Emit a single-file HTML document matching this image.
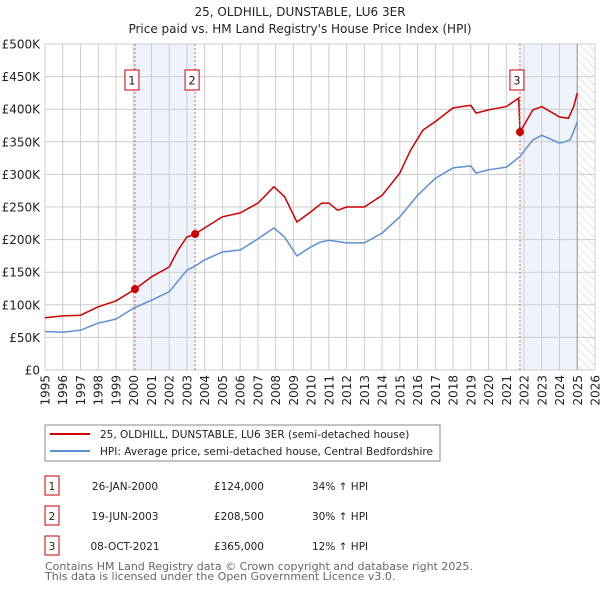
<!DOCTYPE html>
<html><head><meta charset="utf-8"><style>
body{margin:0;background:#fff;}
svg{display:block;font-family:"DejaVu Sans","Liberation Sans",sans-serif;}
</style></head><body>
<svg id="chart" width="600" height="590" viewBox="0 0 600 590">
<defs><pattern id="hatch" width="6" height="6" patternUnits="userSpaceOnUse" patternTransform="rotate(-45)"><line x1="0" y1="0" x2="0" y2="6" stroke="#ccc" stroke-width="1"/></pattern></defs>
<text x="300" y="16" text-anchor="middle" font-size="12" fill="#222">25, OLDHILL, DUNSTABLE, LU6 3ER</text>
<text x="300" y="33" text-anchor="middle" font-size="12" fill="#222">Price paid vs. HM Land Registry's House Price Index (HPI)</text>
<g id="shade"></g><g id="grid"></g><g id="series"></g><g id="marks"></g>
<rect x="45" y="425" width="395" height="36" fill="#fff" stroke="#888"/>
<line x1="50" y1="434" x2="90" y2="434" stroke="#cc0000" stroke-width="2"/>
<text x="100" y="438" font-size="10.5" fill="#222">25, OLDHILL, DUNSTABLE, LU6 3ER (semi-detached house)</text>
<line x1="50" y1="451" x2="90" y2="451" stroke="#5b8fd4" stroke-width="2"/>
<text x="100" y="455" font-size="10.5" fill="#222" textLength="333" lengthAdjust="spacingAndGlyphs">HPI: Average price, semi-detached house, Central Bedfordshire</text>
<g id="table" font-size="10.5" fill="#222"></g>
<text x="45" y="570" font-size="11" fill="#666">Contains HM Land Registry data © Crown copyright and database right 2025.</text>
<text x="45" y="580" font-size="11" fill="#666">This data is licensed under the Open Government Licence v3.0.</text>
</svg>
<script>
const hpiYears=[1995,1996,1997,1998,1999,2000,2001,2002,2003,2003.5,2004,2005,2006,2007,2007.9,2008.5,2009.2,2010,2010.5,2011,2012,2013,2014,2015,2016,2017,2018,2019,2019.3,2020,2021,2021.75,2022.5,2023,2024,2024.3,2024.6,2025];
const hpiValues=[59,58,61,72,78,95,107,120,153,160,169,181,184,201,218,204,175,189,196,199,195,195,210,235,268,294,310,313,302,307,311,327,353,360,348,350,353,380];
const priceYears=[1995,1996,1997,1998,1999,2000.07,2001,2002,2002.5,2003,2003.46,2004,2005,2006,2007,2007.9,2008.5,2009.2,2010,2010.6,2011,2011.5,2012,2013,2014,2015,2015.6,2016.3,2017,2018,2019,2019.3,2020,2021,2021.7,2021.77,2022.5,2023,2024,2024.5,2024.8,2025];
const priceValues=[80,83,84,97,106,124,143,158,184,204,208.5,218,235,241,256,281,266,227,243,256,256,245,250,250,268,302,337,368,381,402,406,394,399,404,417,365,399,404,388,386,404,425];
const saleYears=[2000.07,2003.46,2021.77];
const saleValues=[124,208.5,365];
const saleDates=["26-JAN-2000","19-JUN-2003","08-OCT-2021"];
const salePrices=["£124,000","£208,500","£365,000"];
const saleHpi=["34% ↑ HPI","30% ↑ HPI","12% ↑ HPI"];
const yTicks=[0,50,100,150,200,250,300,350,400,450,500];
const yTickLabels=["£0","£50K","£100K","£150K","£200K","£250K","£300K","£350K","£400K","£450K","£500K"];
const xTicks=[1995,1996,1997,1998,1999,2000,2001,2002,2003,2004,2005,2006,2007,2008,2009,2010,2011,2012,2013,2014,2015,2016,2017,2018,2019,2020,2021,2022,2023,2024,2025,2026];
const NS="http://www.w3.org/2000/svg";
const X=y=>45+(y-1995)*(550/31);
const Y=v=>370-v*0.652;
function mk(tag,attrs,parent,text){const e=document.createElementNS(NS,tag);for(const k in attrs)e.setAttribute(k,attrs[k]);if(text!==undefined)e.textContent=text;document.getElementById(parent).appendChild(e);return e;}
let e;
e=mk('rect',{x:X(saleYears[0]),y:44,width:X(saleYears[1])-X(saleYears[0]),height:326,fill:'#eef3fc'},'shade');


e=mk('rect',{x:X(saleYears[2]),y:44,width:X(2025)-X(saleYears[2]),height:326,fill:'#eef3fc'},'shade');


e=mk('rect',{x:X(2025),y:44,width:X(2026)-X(2025),height:326,fill:'url(#hatch)'},'shade');


yTicks.forEach((t,i)=>{
 e=mk('line',{x1:45,x2:595,y1:Y(t),y2:Y(t),stroke:'#ccc'},'grid');
 
 
 e=mk('text',{x:40,y:Y(t)+4.5,'text-anchor':'end','font-size':12,fill:'#222'},'grid',yTickLabels[i]);
 
 
});
xTicks.forEach(t=>{
 e=mk('line',{x1:X(t),x2:X(t),y1:44,y2:370,stroke:'#ccc'},'grid');
 
 
 e=mk('text',{x:0,y:0,'text-anchor':'end','font-size':12,fill:'#222',transform:'translate('+(X(t)+4.5)+',375) rotate(-90)'},'grid',String(t));
 
 
});
e=mk('line',{x1:X(2025),x2:X(2025),y1:44,y2:370,stroke:'#999'},'grid');


e=mk('path',{d:hpiYears.map((y,i)=>(i?'L':'M')+X(y).toFixed(1)+','+Y(hpiValues[i]).toFixed(1)).join(''),fill:'none',stroke:'#5b8fd4','stroke-width':1.5},'series');


e=mk('path',{d:priceYears.map((y,i)=>(i?'L':'M')+X(y).toFixed(1)+','+Y(priceValues[i]).toFixed(1)).join(''),fill:'none',stroke:'#cc0000','stroke-width':1.5},'series');


saleYears.forEach((y,i)=>{
 e=mk('line',{x1:X(y),x2:X(y),y1:44,y2:370,stroke:'#e06666','stroke-dasharray':'2,2'},'marks');
 
 
 e=mk('circle',{cx:X(y),cy:Y(saleValues[i]),r:4,fill:'#cc0000'},'marks');
 
 
 e=mk('rect',{x:X(y)-10,y:70,width:14,height:20,fill:'#fff',stroke:'#cc0000'},'marks');
 
 
 e=mk('text',{x:X(y)-3,y:84.5,'text-anchor':'middle','font-size':11.5,fill:'#222'},'marks',String(i+1));
 
 
 const ry=476+i*30;
 e=mk('rect',{x:45,y:ry,width:14,height:19,fill:'#fff',stroke:'#cc0000'},'table');
 
 
 e=mk('text',{x:52,y:ry+14,'text-anchor':'middle'},'table',String(i+1));
 
 
 e=mk('text',{x:125,y:ry+14,'text-anchor':'middle'},'table',saleDates[i]);
 
 
 e=mk('text',{x:264,y:ry+14,'text-anchor':'end'},'table',salePrices[i]);
 
 
 e=mk('text',{x:312,y:ry+14},'table',saleHpi[i]);
 
 
});
</script>
</body></html>
